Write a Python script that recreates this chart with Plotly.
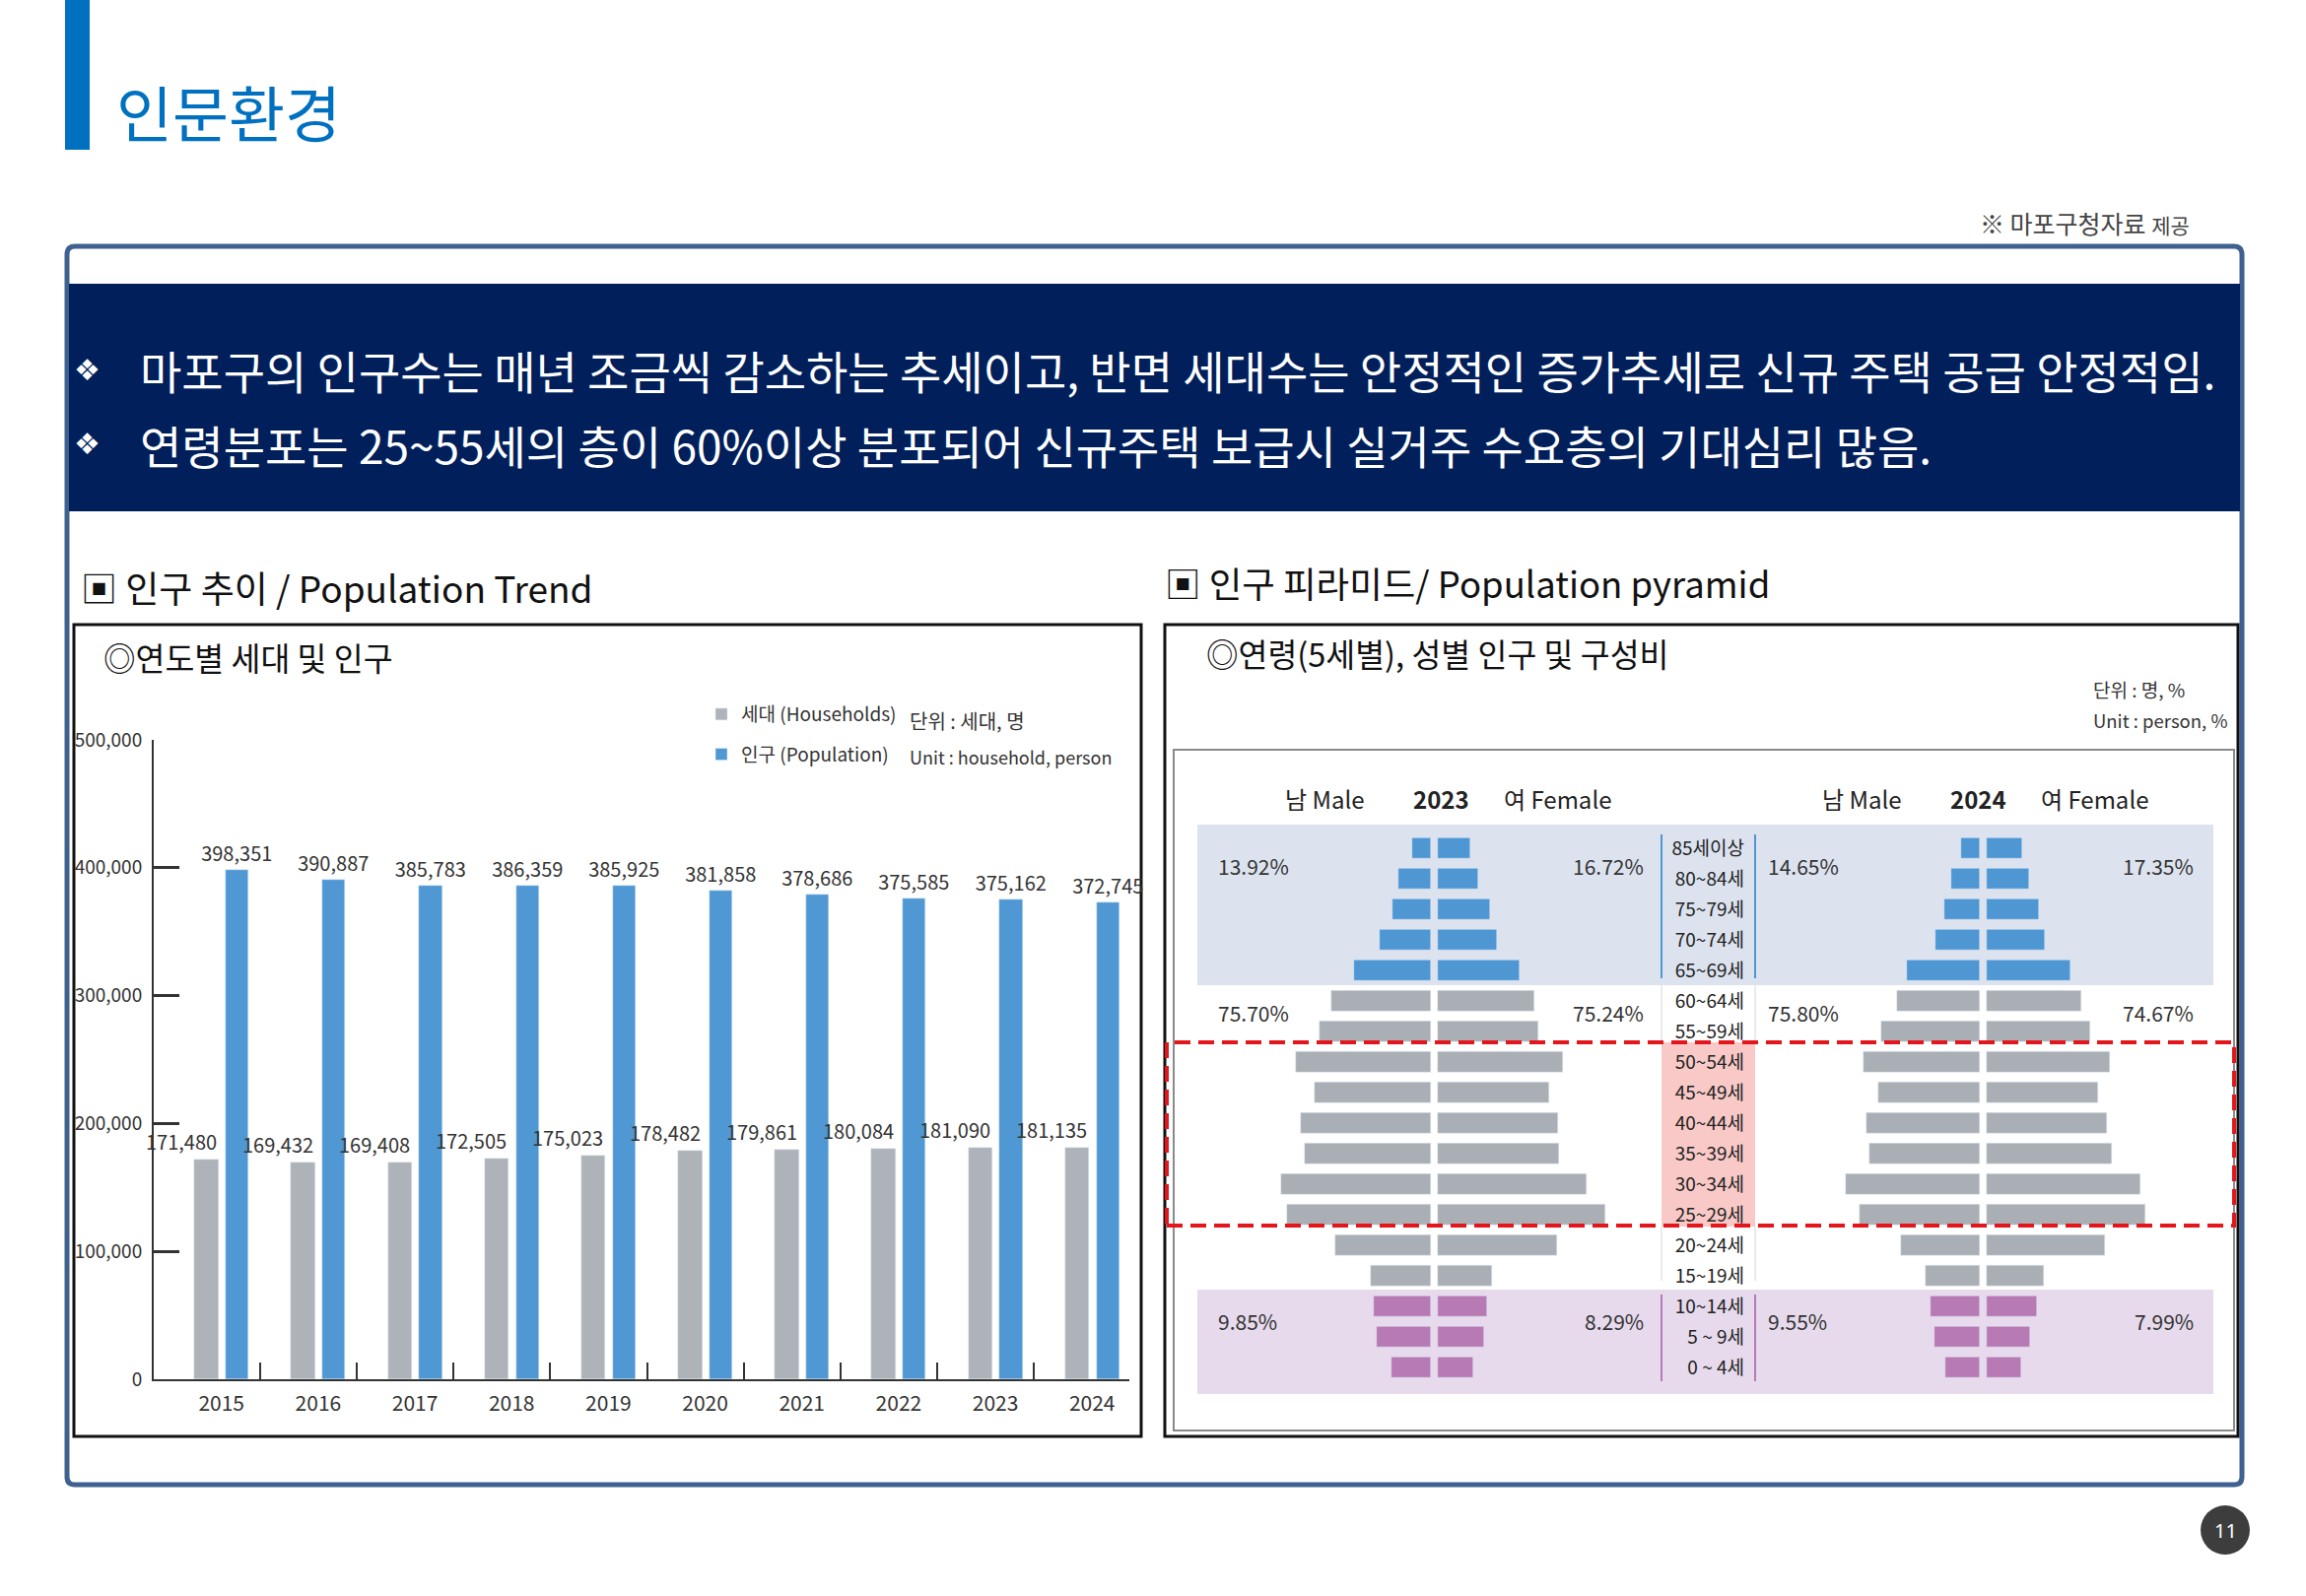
import plotly.graph_objects as go

W, H = 2340, 1620

# ---------------- data ----------------
years = ["2015", "2016", "2017", "2018", "2019", "2020", "2021", "2022", "2023", "2024"]
households = [171480, 169432, 169408, 172505, 175023, 178482, 179861, 180084, 181090, 181135]
population = [398351, 390887, 385783, 386359, 385925, 381858, 378686, 375585, 375162, 372745]
y_tick_values = [0, 100000, 200000, 300000, 400000, 500000]

age_groups = ["85세이상", "80~84세", "75~79세", "70~74세", "65~69세", "60~64세", "55~59세",
              "50~54세", "45~49세", "40~44세", "35~39세", "30~34세", "25~29세", "20~24세",
              "15~19세", "10~14세", "5 ~ 9세", "0 ~ 4세"]
# relative bar lengths (same scale for all four series)
male_2023 = [27, 46, 55, 73, 109, 142, 158, 192, 165, 185, 179, 213, 205, 136, 86, 81, 77, 56]
female_2023 = [46, 57, 74, 83, 116, 137, 143, 177, 158, 170, 172, 211, 237, 169, 77, 70, 66, 50]
male_2024 = [27, 41, 51, 63, 104, 118, 141, 166, 144, 161, 157, 191, 171, 112, 77, 70, 65, 49]
female_2024 = [51, 61, 74, 83, 119, 135, 148, 175, 159, 171, 178, 219, 226, 168, 81, 72, 62, 49]
group_sizes = [5, 10, 3]          # 65세 이상 / 15~64세 / 0~14세
share_male_2023 = ["13.92%", "75.70%", "9.85%"]
share_female_2023 = ["16.72%", "75.24%", "8.29%"]
share_male_2024 = ["14.65%", "75.80%", "9.55%"]
share_female_2024 = ["17.35%", "74.67%", "7.99%"]

# ---------------- style ----------------
KR = "Noto Sans CJK KR"
NUM = "Noto Sans CJK KR"
TXT = "#333333"
GRAY_BAR = "#ADB3B8"
BLUE_BAR = "#4F98D4"
PYR_BLUE = "#4F97D3"
PYR_GRAY = "#A9AFB4"
PYR_PURPLE = "#B77AB4"


def px(x):
    return x / W


def py(y):
    return 1 - y / H


group_colors = [PYR_BLUE, PYR_GRAY, PYR_PURPLE]
row_colors = []
for size, col in zip(group_sizes, group_colors):
    row_colors += [col] * size

fig = go.Figure()

# ---------------- left bar chart ----------------
xs = list(range(len(years)))
fig.add_trace(go.Bar(
    x=xs, y=households, width=0.25, offset=-0.28, marker_color=GRAY_BAR,
    name="세대 (Households)", legendgroup="h", xaxis="x", yaxis="y",
    hoverinfo="skip"))
fig.add_trace(go.Bar(
    x=xs, y=population, width=0.235, offset=0.045, marker_color=BLUE_BAR,
    name="인구 (Population)", legendgroup="p", xaxis="x", yaxis="y",
    text=[f"{v:,}" for v in population], textposition="outside",
    textfont=dict(family=NUM, size=20, color=TXT), constraintext="none",
    cliponaxis=False, textangle=0, hoverinfo="skip"))
# invisible trace so that the label axis is drawn
fig.add_trace(go.Scatter(x=[0], y=[0], xaxis="x2", yaxis="y", mode="markers",
                         marker=dict(opacity=0), showlegend=False, hoverinfo="skip"))

annotations = []
for i, v in enumerate(households):
    annotations.append(dict(x=i - 0.03, y=v, xref="x", yref="y", text=f"{v:,}",
                            xanchor="right", yanchor="bottom", yshift=2, showarrow=False,
                            font=dict(family=NUM, size=20, color=TXT)))

# ---------------- pyramids ----------------
def add_pyramid(male, female, xa, ya, half_gap):
    fig.add_trace(go.Bar(y=age_groups, x=[-v for v in male], base=-half_gap, orientation="h",
                         width=0.7, marker_color=row_colors, xaxis=xa, yaxis=ya,
                         showlegend=False, hoverinfo="skip"))
    fig.add_trace(go.Bar(y=age_groups, x=female, base=half_gap, orientation="h",
                         width=0.7, marker_color=row_colors, xaxis=xa, yaxis=ya,
                         showlegend=False, hoverinfo="skip"))


add_pyramid(male_2023, female_2023, "x3", "y3", 5)
add_pyramid(male_2024, female_2024, "x4", "y4", 4.5)

pyr_ydom = [py(1403.5), py(845.5)]

layout_axes = dict(
    xaxis=dict(domain=[px(156), px(1146)], anchor="y", range=[-0.70, 9.385],
               tickvals=[i + 0.4 for i in range(9)] + [9.38], showticklabels=False,
               ticks="inside", ticklen=17, tickwidth=2, tickcolor=TXT,
               showline=True, linecolor=TXT, linewidth=2, showgrid=False, zeroline=False,
               fixedrange=True, automargin=False),
    xaxis2=dict(domain=[px(156), px(1146)], anchor="y", overlaying="x", side="bottom",
                range=[-0.70, 9.385], tickvals=xs, ticktext=years, ticks="",
                showline=False, showgrid=False, zeroline=False, ticklabelstandoff=10,
                automargin=False, tickfont=dict(family=NUM, size=21, color=TXT)),
    yaxis=dict(domain=[py(1400), py(751)], anchor="x", range=[0, 500000],
               tickvals=y_tick_values, tickformat=",d", ticks="inside", ticklen=26,
               tickwidth=3, tickcolor=TXT, showline=True, linecolor=TXT, linewidth=2,
               showgrid=False, zeroline=False, ticklabelstandoff=6, automargin=False,
               tickfont=dict(family=NUM, size=19, color=TXT)),
    xaxis3=dict(domain=[px(1215), px(1686)], anchor="y3", range=[-337, 322.4],
                visible=False, fixedrange=True, automargin=False),
    yaxis3=dict(domain=pyr_ydom, anchor="x3", categoryorder="array", automargin=False,
                categoryarray=age_groups[::-1], range=[-0.5, 17.5], visible=False),
    xaxis4=dict(domain=[px(1781), px(2246)], anchor="y4", range=[-324.1, 326.9],
                visible=False, fixedrange=True, automargin=False),
    yaxis4=dict(domain=pyr_ydom, anchor="x4", categoryorder="array", automargin=False,
                categoryarray=age_groups[::-1], range=[-0.5, 17.5], side="left",
                showline=False, showgrid=False, zeroline=False, ticks="",
                ticklabelstandoff=10, tickfont=dict(family=KR, size=19, color="#222222")),
)

# percentage labels
pct_rows = [879, 1028, 1341]
for j, yy in enumerate(pct_rows):
    for xx, anchor, lst in [(1234, "left", share_male_2023), (1670, "right", share_female_2023),
                            (1792, "left", share_male_2024), (2228, "right", share_female_2024)]:
        annotations.append(dict(x=px(xx), y=py(yy), xref="paper", yref="paper", text=lst[j],
                                xanchor=anchor, yanchor="middle", showarrow=False,
                                font=dict(family=NUM, size=21, color=TXT)))

# ---------------- texts ----------------
def txt(x, y, s, size, color=TXT, family=KR, anchor="left", bold=False):
    if bold:
        s = f"<b>{s}</b>"
    annotations.append(dict(x=px(x), y=py(y), xref="paper", yref="paper", text=s,
                            xanchor=anchor, yanchor="middle", showarrow=False,
                            font=dict(family=family, size=size, color=color)))


txt(116, 113, "인문환경", 62, color="#0070C0")
txt(2224, 226, "※ 마포구청자료 <span style='font-size:21px'>제공</span>", 25, color="#444444",
    anchor="right")
txt(88, 375, "❖", 30, color="white", family="DejaVu Sans", anchor="center")
txt(88, 451, "❖", 30, color="white", family="DejaVu Sans", anchor="center")
txt(140, 375, "마포구의 인구수는 매년 조금씩 감소하는 추세이고, 반면 세대수는 안정적인 증가추세로 "
              "신규 주택 공급 안정적임.", 46, color="white")
txt(140, 451, "연령분포는 25~55세의 층이 60%이상 분포되어 신규주택 보급시 실거주 수요층의 기대심리 많음.",
    46, color="white")
txt(80, 596, "▣ 인구 추이 / Population Trend", 37, color="#111111")
txt(1180, 591, "▣ 인구 피라미드/ Population pyramid", 36.5, color="#111111")
txt(103, 667, "◎연도별 세대 및 인구", 32.5, color="#111111")
txt(1222, 662, "◎연령(5세별), 성별 인구 및 구성비", 32.5, color="#111111")
txt(921, 731, "단위 : 세대, 명", 20, family=NUM)
txt(921, 768, "Unit : household, person", 18, family=NUM)
txt(2122, 699, "단위 : 명, %", 19, family=NUM)
txt(2122, 731, "Unit : person, %", 18.5, family=NUM)
for cx, s, b in [(1344, "남 Male", False), (1462, "2023", True), (1581, "여 Female", False),
                 (1889, "남 Male", False), (2008, "2024", True), (2126, "여 Female", False)]:
    txt(cx, 810, s, 24, color="#222222", family=NUM, anchor="center", bold=b)
txt(2258, 1553, "11", 20, color="white", family="Noto Sans", anchor="center")


# ---------------- shapes ----------------
def rect(x0, y0, x1, y1, fill=None, line=None, lw=0, layer="below", dash=None):
    d = dict(type="rect", xref="paper", yref="paper", x0=px(x0), x1=px(x1), y0=py(y1),
             y1=py(y0), layer=layer, line=dict(width=lw, color=line or "rgba(0,0,0,0)"))
    if dash:
        d["line"]["dash"] = dash
    if fill:
        d["fillcolor"] = fill
    return d


def rounded_rect(x0, y0, x1, y1, r, line, lw):
    L, R, T, B = px(x0), px(x1), py(y0), py(y1)
    rx, ry = r / W, r / H
    path = (f"M {L + rx},{T} L {R - rx},{T} Q {R},{T} {R},{T - ry} "
            f"L {R},{B + ry} Q {R},{B} {R - rx},{B} L {L + rx},{B} "
            f"Q {L},{B} {L},{B + ry} L {L},{T - ry} Q {L},{T} {L + rx},{T} Z")
    return dict(type="path", xref="paper", yref="paper", path=path, layer="below",
                line=dict(color=line, width=lw))


def vline(x, y0, y1, color, lw=2):
    return dict(type="line", xref="paper", yref="paper", x0=px(x), x1=px(x), y0=py(y0),
                y1=py(y1), line=dict(color=color, width=lw), layer="below")


shapes = [
    rect(66, 0, 91, 152, fill="#0070C0"),
    rounded_rect(68, 250, 2275, 1507, 8, "#3F6190", 5),
    rect(70, 288, 2273, 519, fill="#001F5B"),
    rect(75, 634, 1158, 1458, line="#111111", lw=3),
    rect(1182, 634, 2271, 1458, line="#111111", lw=3),
    rect(1191, 761, 2267, 1452, line="#8A8A8A", lw=2),
    rect(1215, 837, 2246, 1000, fill="#DCE3EF"),
    rect(1215, 1309, 2246, 1415, fill="#E6DAEC"),
    rect(1686, 1058, 1781, 1245, fill="#F8C9C7"),
    vline(1686, 847, 993, PYR_BLUE), vline(1781, 847, 993, PYR_BLUE),
    vline(1686, 1000, 1058, "#D5D5D5", 1), vline(1781, 1000, 1058, "#D5D5D5", 1),
    vline(1686, 1245, 1300, "#D5D5D5", 1), vline(1781, 1245, 1300, "#D5D5D5", 1),
    vline(1686, 1314, 1402, PYR_PURPLE), vline(1781, 1314, 1402, PYR_PURPLE),
    rect(1184, 1058, 2267, 1244, line="#E3161C", lw=4, layer="above", dash="16px,8px"),
    dict(type="circle", xref="paper", yref="paper", x0=px(2233), x1=px(2283), y0=py(1578),
         y1=py(1528), fillcolor="#3D3D3D", line=dict(width=0), layer="below"),
]

fig.update_layout(
    width=W, height=H, margin=dict(l=0, r=0, t=0, b=0, autoexpand=False),
    paper_bgcolor="white", plot_bgcolor="rgba(0,0,0,0)",
    barmode="overlay", bargap=0,
    font=dict(family=KR, color=TXT),
    showlegend=True,
    legend=dict(x=px(712), y=py(706), xanchor="left", yanchor="top",
                bgcolor="rgba(0,0,0,0)", font=dict(family=NUM, size=19, color=TXT),
                tracegroupgap=13, itemwidth=30, traceorder="grouped"),
    shapes=shapes, annotations=annotations,
    **layout_axes,
)

fig.write_html("out.html",
               post_script="document.body.style.margin='0';document.body.style.overflow='hidden';")
